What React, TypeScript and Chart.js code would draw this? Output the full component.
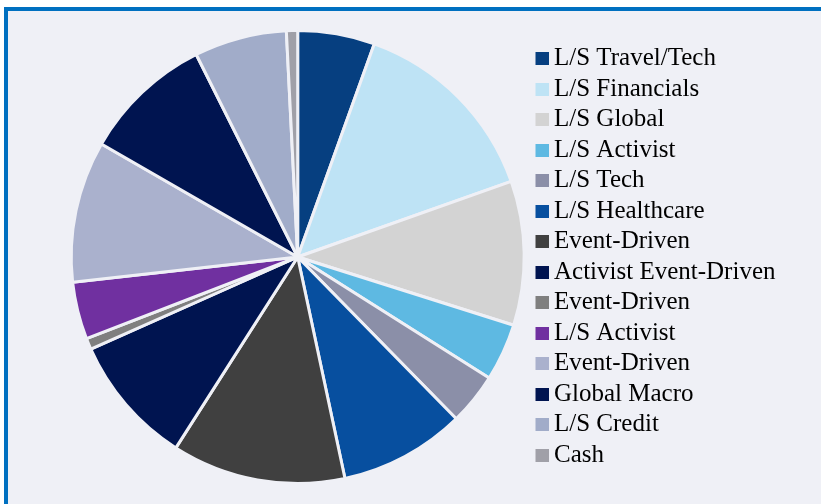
import React, { useEffect, useRef } from "react";
import { Chart, registerables } from "chart.js";

Chart.register(...registerables);

const categories = [
  "L/S Travel/Tech",
  "L/S Financials",
  "L/S Global",
  "L/S Activist",
  "L/S Tech",
  "L/S Healthcare",
  "Event-Driven",
  "Activist Event-Driven",
  "Event-Driven",
  "L/S Activist",
  "Event-Driven",
  "Global Macro",
  "L/S Credit",
  "Cash",
];

const allocation = [5.5, 14.1, 10.3, 4.1, 3.7, 9.0, 12.4, 9.3, 0.8, 4.1, 10.1, 9.3, 6.6, 0.8];

const sliceColors = [
  "#063f80",
  "#bee3f5",
  "#d3d3d3",
  "#5eb9e2",
  "#8b8fa8",
  "#074f9f",
  "#404040",
  "#001450",
  "#7f7f7f",
  "#7030a0",
  "#aab1cd",
  "#001450",
  "#a1acc9",
  "#a0a0a8",
];

const BG = "#eff0f6";
const FRAME = "#0070c0";
const LEGEND_WIDTH = 286;

function makeSwatch(color: string): HTMLCanvasElement {
  const c = document.createElement("canvas");
  c.width = 15;
  c.height = 13;
  const ctx = c.getContext("2d")!;
  ctx.fillStyle = color;
  ctx.fillRect(2, 0, 13, 13);
  return c;
}

const legendWidthPlugin = {
  id: "legendWidth",
  beforeInit(chart: any) {
    const lg = chart.legend;
    if (lg) {
      const orig = lg.fit;
      lg.fit = function (this: any) {
        orig.call(this);
        this.width = LEGEND_WIDTH;
      };
    }
  },
};

export default function App() {
  const ref = useRef<HTMLCanvasElement | null>(null);

  useEffect(() => {
    if (!ref.current) return;
    const swatches = sliceColors.map(makeSwatch);
    const chart = new Chart(ref.current, {
      type: "pie",
      data: {
        labels: categories,
        datasets: [
          {
            data: allocation,
            backgroundColor: sliceColors,
            borderColor: BG,
            borderWidth: 3,
          },
        ],
      },
      options: {
        responsive: false,
        animation: false,
        devicePixelRatio: 1,
        radius: 226.5,
        layout: {
          padding: { left: 60.4, right: 0, top: 20, bottom: 10 },
        },
        plugins: {
          tooltip: { enabled: false },
          legend: {
            position: "right",
            labels: {
              usePointStyle: true,
              boxWidth: 1,
              padding: 5.5,
              color: "#000000",
              font: { family: "'Liberation Serif', 'Times New Roman', serif", size: 25 },
              generateLabels: (chart: any) => {
                const base = (Chart as any).overrides.doughnut.plugins.legend.labels.generateLabels(chart);
                return base.map((item: any, i: number) => ({
                  ...item,
                  pointStyle: swatches[i],
                  lineWidth: 0,
                }));
              },
            },
          },
        },
      } as any,
      plugins: [legendWidthPlugin],
    });
    return () => chart.destroy();
  }, []);

  return (
    <>
      <div
        style={{
          position: "fixed",
          left: 4,
          top: 7,
          width: 860,
          height: 540,
          background: BG,
          borderLeft: `4px solid ${FRAME}`,
          borderTop: `4px solid ${FRAME}`,
        }}
      />
      <div style={{ position: "fixed", left: 0, top: 0, width: 821, height: 504 }}>
        <canvas ref={ref} width={821} height={504} style={{ display: "block" }} />
      </div>
    </>
  );
}
